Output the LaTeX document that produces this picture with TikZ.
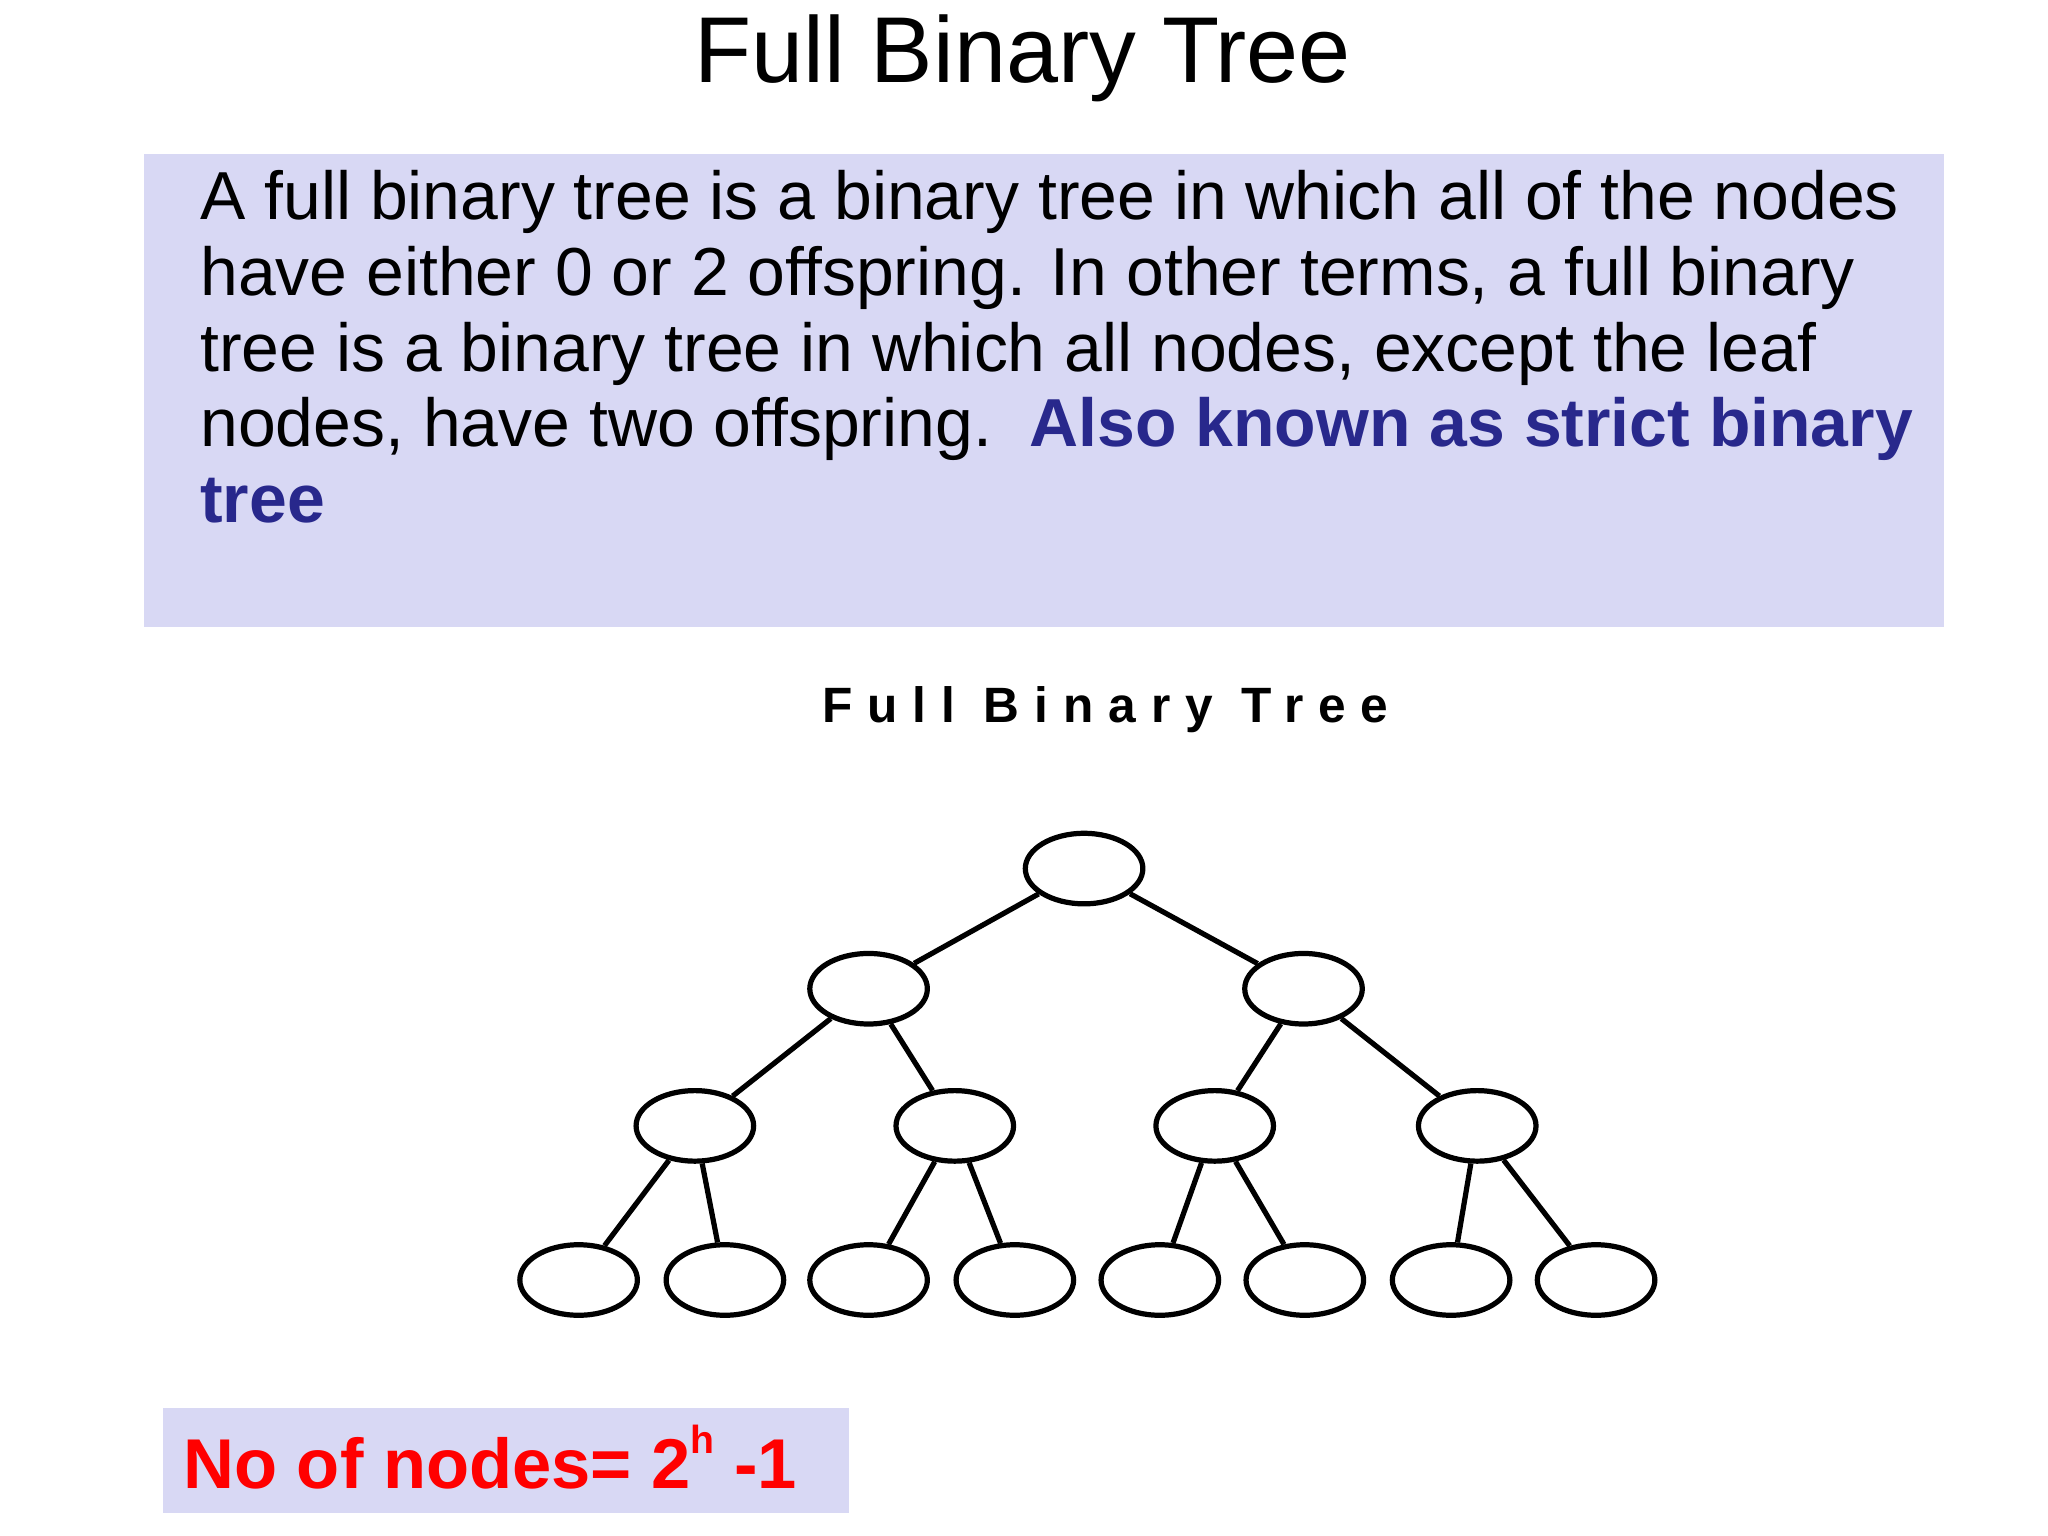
\documentclass[tikz,border=0pt]{standalone}
\usepackage{fontspec}
\setmainfont{Liberation Sans}
\usetikzlibrary{shapes.geometric}
\definecolor{boxbg}{RGB}{216,216,244}
\definecolor{navy}{RGB}{40,40,140}
\begin{document}
\begin{tikzpicture}[x=0.5pt,y=-0.5pt,
  tn/.style={ellipse,draw,line width=2pt,minimum width=45pt,minimum height=27pt,inner sep=0pt},
  edge/.style={line width=2pt}]
\useasboundingbox (0,0) rectangle (1568,1176);
\node[anchor=base] (title) at (783,63) {\fontsize{35.8pt}{40pt}\selectfont Full Binary Tree};
\fill[boxbg] (110,118) rectangle (1488,480);
\node[anchor=north west,align=left,inner sep=0pt,font=\fontsize{26pt}{29pt}\selectfont] (txt) at (153,130) {%
A full binary tree is a binary tree in which all of the nodes\\
have either 0 or 2 offspring. In other terms, a full binary\\
tree is a binary tree in which all nodes, except the leaf\\
nodes, have two offspring.\ \ \textcolor{navy}{\textbf{Also known as strict binary}}\\
\textcolor{navy}{\textbf{tree}}};
\node[anchor=base] (sub) at (852,553) {\fontsize{19pt}{20pt}\selectfont\addfontfeatures{LetterSpace=30}\textbf{Full Binary Tree}};
\node[tn] (r) at (830,665) {};
\node[tn] (a) at (665,757) {};
\node[tn] (b) at (998,757) {};
\node[tn] (c1) at (532,862) {};
\node[tn] (c2) at (731,862) {};
\node[tn] (c3) at (930,862) {};
\node[tn] (c4) at (1131,862) {};
\foreach \i/\x in {1/443,2/555,3/665,4/777,5/888,6/999,7/1111,8/1222}
  \node[tn] (l\i) at (\x,980) {};
\draw[edge] (r)--(a) (r)--(b) (a)--(c1) (a)--(c2) (b)--(c3) (b)--(c4)
  (c1)--(l1) (c1)--(l2) (c2)--(l3) (c2)--(l4) (c3)--(l5) (c3)--(l6) (c4)--(l7) (c4)--(l8);
\fill[boxbg] (125,1078) rectangle (650,1158);
\node[anchor=base west,inner sep=0pt,text=red] (f) at (140,1140) {\fontsize{27pt}{30pt}\selectfont\textbf{No of nodes= 2\raisebox{0.5em}{\fontsize{15pt}{16pt}\selectfont h}\ -1}};
\end{tikzpicture}
\end{document}
